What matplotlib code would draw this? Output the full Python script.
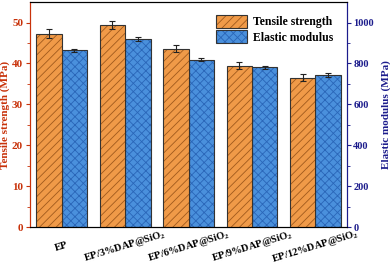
import matplotlib
matplotlib.use('Agg')
import matplotlib.pyplot as plt
import numpy as np

samples = ['EP', r'EP/3%DAP@SiO$_\mathbf{2}$', r'EP/6%DAP@SiO$_\mathbf{2}$',
           r'EP/9%DAP@SiO$_\mathbf{2}$', r'EP/12%DAP@SiO$_\mathbf{2}$']
tensile = [47.3, 49.4, 43.6, 39.5, 36.5]
tensile_err = [1.1, 0.9, 0.8, 0.9, 0.9]
modulus = [864, 920, 818, 782, 743]
modulus_err = [8, 9, 8, 8, 9]

red = '#c8320a'
navy = '#1c1c8c'

plt.rcParams['font.family'] = 'Liberation Serif'
plt.rcParams['font.weight'] = 'bold'
plt.rcParams['mathtext.fontset'] = 'custom'
plt.rcParams['mathtext.rm'] = 'Liberation Serif'
plt.rcParams['mathtext.bf'] = 'Liberation Serif:bold'
plt.rcParams['hatch.linewidth'] = 0.6

fig = plt.figure(figsize=(3.9, 2.65), dpi=100)
ax = fig.add_axes([0.077, 0.143, 0.813, 0.849])
ax2 = ax.twinx()

x = np.arange(len(samples))
w = 0.4
b1 = ax.bar(x - w/2, tensile, w, yerr=tensile_err, color='#f09a48', edgecolor='#333333',
            linewidth=0.8, hatch='////', capsize=2,
            error_kw=dict(elinewidth=0.8, capthick=0.8, ecolor='#222222'),
            label='Tensile strength')
b2 = ax2.bar(x + w/2, modulus, w, yerr=modulus_err, color='#4a90dc', edgecolor='#333333',
             linewidth=0.8, hatch='xxxx', capsize=2,
             error_kw=dict(elinewidth=0.8, capthick=0.8, ecolor='#222222'),
             label='Elastic modulus')
for p in b1:
    p._hatch_color = matplotlib.colors.to_rgba('#a05a1c')
for p in b2:
    p._hatch_color = matplotlib.colors.to_rgba('#2a66b8')

ax.set_xlim(-0.5, len(samples) - 0.5)
ax.set_ylim(0, 55)
ax2.set_ylim(0, 1100)
ax.set_yticks([0, 10, 20, 30, 40, 50])
ax.set_yticks(np.arange(5, 55, 10), minor=True)
ax2.set_yticks([0, 200, 400, 600, 800, 1000])
ax2.set_yticks(np.arange(100, 1100, 200), minor=True)

ax.set_xticks(x)
ax.set_xticklabels(samples, rotation=17, ha='center', va='center',
                   rotation_mode='anchor', fontsize=7.5)
ax.tick_params(axis='x', length=0, pad=14)

ax.tick_params(axis='y', colors=red, labelsize=8, length=3, pad=2)
ax.tick_params(axis='y', which='minor', colors=red, length=2)
ax2.tick_params(axis='y', colors=navy, labelsize=7.5, length=3, pad=1.5)
ax2.tick_params(axis='y', which='minor', colors=navy, length=2)

ax.set_ylabel('Tensile strength (MPa)', color=red, fontsize=8, fontweight='bold')
ax2.set_ylabel('Elastic modulus (MPa)', color=navy, fontsize=8, fontweight='bold')
ax.yaxis.set_label_coords(-0.062, 0.5)
ax2.yaxis.set_label_coords(1.107, 0.5)

ax2.spines['left'].set_color(red)
ax2.spines['right'].set_color(navy)
ax.spines['left'].set_color(red)
ax.spines['right'].set_color(navy)

ax.legend([b1, b2], ['Tensile strength', 'Elastic modulus'], loc='upper right',
          bbox_to_anchor=(0.99, 0.99), frameon=False, fontsize=8.5, handlelength=2.6,
          handleheight=1.3, labelspacing=0.15, handletextpad=0.5)
ax2.set_zorder(ax.get_zorder() - 1)
ax.patch.set_visible(False)

plt.savefig('out.png', dpi=100)
